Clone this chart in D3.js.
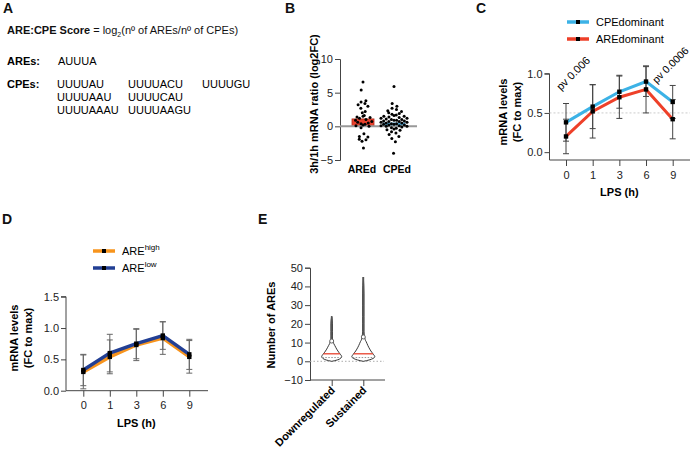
<!DOCTYPE html>
<html><head><meta charset="utf-8">
<script src="https://cdn.jsdelivr.net/npm/d3@7/dist/d3.min.js"></script>
<style>
body{margin:0;background:#fff;}
svg{font-family:"Liberation Sans",Arial,Helvetica,sans-serif;}
.tick text{font-size:11px;fill:#222;}
</style></head>
<body>
<svg id="c" width="695" height="451"></svg>
<script>
// ---------- DATA ----------
// Panel B
const bCats = ["AREd", "CPEd"];
const bMeans = [1.1, 0.5];
const bAREd = [6.6, 5.4, 3.8, 3.6, 3.4, 3.2, 3.0, 2.7, 2.2, 2.0, 1.6, 1.5, 1.4, 1.3, 1.2, 1.0, 0.9, 0.7, 0.6, 0.5, 0.4, 0.3, 0.2, 0.1, 0.0, -0.2, -1.1, -1.5, -1.6, -1.9, -2.0, -2.2, -3.2];
const bCPEd = [5.9, 3.4, 3.0, 2.7, 2.5, 2.3, 2.2, 2.0, 1.9, 1.8, 1.7, 1.6, 1.5, 1.5, 1.4, 1.3, 1.2, 1.2, 1.1, 1.0, 1.0, 0.9, 0.9, 0.8, 0.8, 0.7, 0.7, 0.6, 0.6, 0.5, 0.5, 0.4, 0.4, 0.3, 0.3, 0.2, 0.2, 0.1, 0.1, 0.0, 0.0, -0.1, -0.2, -0.3, -0.4, -0.5, -0.6, -0.8, -1.0, -1.2, -1.5, -1.8, -2.3, -4.0];
const bTicks = [-5, 0, 5, 10];
// Panel C
const timeCats = ["0", "1", "3", "6", "9"];
const cCPE = [0.38, 0.58, 0.77, 0.90, 0.64];
const cCPEerr = [0.24, 0.28, 0.21, 0.19, 0.21];
const cARE = [0.20, 0.52, 0.70, 0.80, 0.42];
const cAREerr = [0.22, 0.34, 0.27, 0.30, 0.25];
const cTicks = [0, 0.5, 1.0];
// Panel D
const dHigh = [0.30, 0.54, 0.73, 0.84, 0.54];
const dHighErr = [0.27, 0.27, 0.25, 0.26, 0.26];
const dLow = [0.33, 0.60, 0.75, 0.88, 0.58];
const dLowErr = [0.25, 0.30, 0.24, 0.22, 0.24];
const dTicks = [0, 0.5, 1.0, 1.5];
// Panel E (violins: ARE count levels and relative density)
const eCats = ["Downregulated", "Sustained"];
const eLevels = [0, 0.7, 1.5, 2.5, 3.5, 4.5, 5.5, 6.5, 7.5, 8.5, 9.5, 10.5, 11, 11.8, 13, 14, 16, 20, 24, 30, 36, 45];
const eDensDown = [0.02, 0.55, 0.88, 1.0, 0.9, 0.75, 0.62, 0.5, 0.4, 0.3, 0.2, 0.15, 0.12, 0.08, 0.08, 0.08, 0.08, 0.08, 0, 0, 0, 0];
const eDensSust = [0.02, 0.5, 0.85, 1.0, 0.9, 0.78, 0.66, 0.56, 0.47, 0.39, 0.32, 0.25, 0.2, 0.15, 0.12, 0.08, 0.06, 0.06, 0.06, 0.06, 0.06, 0];
const eMedian = [4, 4];
const eQ1 = [2, 2];
const eCircle = [10.8, 13.0];
const eTicks = [-10, 0, 10, 20, 30, 40, 50];

// ---------- DRAW ----------
const svg = d3.select("#c");
const axisCol = "#444";
const FONT = 11;

function panelLabel(t, x, y) {
  svg.append("text").attr("x", x).attr("y", y).text(t)
    .attr("font-size", 14).attr("font-weight", "bold").attr("fill", "#111");
}
function styleAxis(g) {
  g.selectAll("path,line").attr("stroke", axisCol).attr("stroke-width", 1);
  g.selectAll("text").attr("font-size", FONT).attr("fill", "#222").attr("font-family", null);
}

// ===== Panel A =====
panelLabel("A", 3, 13);
const tA = svg.append("text").attr("x", 7).attr("y", 34).attr("font-size", 11).attr("fill", "#111");
tA.append("tspan").attr("font-weight", "bold").text("ARE:CPE Score");
tA.append("tspan").text(" = log");
tA.append("tspan").attr("font-size", 7).attr("dy", 3).text("2");
tA.append("tspan").attr("dy", -3).text("(nº of AREs/nº of CPEs)");
svg.append("text").attr("x", 7).attr("y", 65).attr("font-size", 11).attr("font-weight", "bold").text("AREs:");
svg.append("text").attr("x", 58).attr("y", 65).attr("font-size", 11).text("AUUUA");
svg.append("text").attr("x", 7).attr("y", 88).attr("font-size", 11).attr("font-weight", "bold").text("CPEs:");
const cpeCols = [["UUUUAU", "UUUUAAU", "UUUUAAAU"], ["UUUUACU", "UUUUCAU", "UUUUAAGU"], ["UUUUGU"]];
const cpeX = [57, 128, 202];
cpeCols.forEach((col, ci) => col.forEach((s, ri) => {
  svg.append("text").attr("x", cpeX[ci]).attr("y", 88 + ri * 13).attr("font-size", 11).text(s);
}));

// ===== Panel B =====
panelLabel("B", 285, 13);
const yB = d3.scaleLinear().domain([-5, 10]).range([160, 59]);
const xB = d3.scalePoint().domain(bCats).range([363, 394]);
const gBy = svg.append("g").attr("transform", "translate(340,0)")
  .call(d3.axisLeft(yB).tickValues(bTicks).tickSize(5).tickPadding(2));
styleAxis(gBy);
const bCols = ["#e8412c", "#58b6e2"];
svg.append("g").selectAll("rect").data(bCats).join("rect")
  .attr("x", d => xB(d) - 11).attr("width", 22)
  .attr("y", (d, i) => yB(bMeans[i])).attr("height", (d, i) => yB(0) - yB(bMeans[i]))
  .attr("fill", (d, i) => bCols[i]).attr("stroke", (d, i) => i === 0 ? "#b02a1a" : "#3a8fc0").attr("stroke-width", 0.8);
svg.append("line").attr("x1", 340).attr("x2", 417).attr("y1", yB(0)).attr("y2", yB(0))
  .attr("stroke", "#999").attr("stroke-width", 2);
function jitter(vals, maxHalf) {
  const seq = [0, -0.8, 0.8, -0.4, 0.4, -1, 1, -0.6, 0.6, -0.2, 0.2];
  return vals.map((v, i) => {
    const n = vals.filter(w => Math.abs(w - v) <= 0.35).length;
    const spread = Math.min(maxHalf, 1 + n * 1.3);
    return { v, dx: spread * seq[i % seq.length] };
  });
}
[[bAREd, 10], [bCPEd, 13]].forEach(([vals, mh], gi) => {
  svg.append("g").selectAll("circle").data(jitter(vals, mh)).join("circle")
    .attr("cx", d => xB(bCats[gi]) + d.dx).attr("cy", d => yB(d.v)).attr("r", 1.5).attr("fill", "#000");
});
svg.selectAll(null).data(bCats).join("text")
  .attr("x", (d, i) => xB(d) + (i === 0 ? -1 : 3)).attr("y", 173).attr("text-anchor", "middle")
  .attr("font-size", 10.5).attr("font-weight", "bold").text(d => d);
svg.append("text").attr("transform", "translate(318,104) rotate(-90)").attr("text-anchor", "middle")
  .attr("font-size", 11).attr("font-weight", "bold").text("3h/1h mRNA ratio (log2FC)");

// ===== line panel helper =====
function linePanel(o) {
  const x = d3.scalePoint().domain(timeCats).range(o.xr);
  const y = d3.scaleLinear().domain(o.yd).range(o.yr);
  const gy = svg.append("g").attr("transform", `translate(${o.axX},0)`)
    .call(d3.axisLeft(y).tickValues(o.ticks).tickFormat(d3.format(".1f")).tickSize(5).tickPadding(2));
  gy.select(".domain").attr("d", `M-5,${y(o.ticks[o.ticks.length - 1])}H0V${o.axY}`);
  styleAxis(gy);
  const gx = svg.append("g").attr("transform", `translate(0,${o.axY})`)
    .call(d3.axisBottom(x).tickSize(6).tickPadding(5));
  gx.select(".domain").attr("d", `M${o.axX},0H${o.axEnd}`);
  styleAxis(gx);
  if (o.dash != null) {
    svg.append("line").attr("x1", o.axX).attr("x2", o.axEnd).attr("y1", y(o.dash)).attr("y2", y(o.dash))
      .attr("stroke", "#ccc").attr("stroke-width", 1).attr("stroke-dasharray", "2,2");
  }
  const line = d3.line().x((d, i) => x(timeCats[i])).y(d => y(d));
  o.series.forEach(s => {
    svg.append("path").datum(s.v).attr("d", line).attr("fill", "none")
      .attr("stroke", s.col).attr("stroke-width", o.lw);
  });
  o.series.forEach(s => {
    const g = svg.append("g").attr("stroke", o.errCol).attr("stroke-width", 1);
    s.v.forEach((v, i) => {
      const cx = x(timeCats[i]), lo = y(v - s.e[i]), hi = y(v + s.e[i]);
      g.append("line").attr("x1", cx).attr("x2", cx).attr("y1", lo).attr("y2", hi);
      g.append("line").attr("x1", cx - 3).attr("x2", cx + 3).attr("y1", lo).attr("y2", lo);
      g.append("line").attr("x1", cx - 3).attr("x2", cx + 3).attr("y1", hi).attr("y2", hi);
    });
  });
  o.series.forEach(s => {
    svg.append("g").selectAll("rect").data(s.v).join("rect")
      .attr("x", (d, i) => x(timeCats[i]) - 2.2).attr("y", d => y(d) - 2.2)
      .attr("width", 4.4).attr("height", 4.4).attr("fill", "#000");
  });
  svg.append("text").attr("x", (o.xr[0] + o.xr[1]) / 2).attr("y", o.axY + 36).attr("text-anchor", "middle")
    .attr("font-size", 11).attr("font-weight", "bold").text("LPS (h)");
  const lab = svg.append("text").attr("transform", `translate(${o.labX},${o.labY}) rotate(-90)`)
    .attr("text-anchor", "middle").attr("font-size", 11).attr("font-weight", "bold");
  lab.append("tspan").attr("x", 0).attr("dy", 0).text("mRNA levels");
  lab.append("tspan").attr("x", 0).attr("dy", 13.5).text("(FC to max)");
  return { x, y };
}

// ===== Panel C =====
panelLabel("C", 476, 13);
const C = linePanel({
  xr: [566, 672.7], yd: [-0.1, 1.0], yr: [160, 73.7], axX: 549.5, axY: 160, axEnd: 690,
  ticks: cTicks, dash: 0.5, lw: 3, errCol: "#444",
  series: [{ v: cCPE, e: cCPEerr, col: "#3cb2e6" }, { v: cARE, e: cAREerr, col: "#ee4029" }],
  labX: 507, labY: 112
});
[["CPEdominant", "#3cb2e6", 22], ["AREdominant", "#ee4029", 39]].forEach(([t, col, yy]) => {
  svg.append("line").attr("x1", 567).attr("x2", 589).attr("y1", yy).attr("y2", yy).attr("stroke", col).attr("stroke-width", 3.5);
  svg.append("rect").attr("x", 576).attr("y", yy - 2).attr("width", 4).attr("height", 4).attr("fill", "#000");
  svg.append("text").attr("x", 596).attr("y", yy + 4).attr("font-size", 11).text(t);
});
svg.append("text").attr("transform", `translate(${C.x("0") - 5},${C.y(0.78)}) rotate(-45)`)
  .attr("font-size", 11).text("pv 0.006");
svg.append("text").attr("transform", `translate(${C.x("9") - 16},${C.y(0.87)}) rotate(-45)`)
  .attr("font-size", 10.5).text("pv 0.0006");

// ===== Panel D =====
panelLabel("D", 2, 224);
linePanel({
  xr: [83.3, 189.3], yd: [0, 1.5], yr: [390.7, 296.7], axX: 66, axY: 390.7, axEnd: 208,
  ticks: dTicks, dash: null, lw: 3.5, errCol: "#666",
  series: [{ v: dHigh, e: dHighErr, col: "#f7941d" }, { v: dLow, e: dLowErr, col: "#223f94" }],
  labX: 18, labY: 338
});
[["high", "#f7941d", 251], ["low", "#223f94", 268]].forEach(([t, col, yy]) => {
  svg.append("line").attr("x1", 93).attr("x2", 115).attr("y1", yy).attr("y2", yy).attr("stroke", col).attr("stroke-width", 3.5);
  svg.append("rect").attr("x", 102).attr("y", yy - 2).attr("width", 4).attr("height", 4).attr("fill", "#000");
  const tt = svg.append("text").attr("x", 122).attr("y", yy + 4).attr("font-size", 11);
  tt.append("tspan").text("ARE");
  tt.append("tspan").attr("font-size", 8).attr("dy", -5).text(t);
});

// ===== Panel E =====
panelLabel("E", 258, 224);
const yE = d3.scaleLinear().domain([-10, 50]).range([380, 267.7]);
const xE = d3.scalePoint().domain(eCats).range([331.7, 363.3]);
const gEy = svg.append("g").attr("transform", "translate(310,0)")
  .call(d3.axisLeft(yE).tickValues(eTicks).tickSize(5).tickPadding(2));
styleAxis(gEy);
const gEx = svg.append("g").attr("transform", "translate(0,380)")
  .call(d3.axisBottom(xE).tickSize(6).tickFormat(""));
gEx.select(".domain").attr("d", "M310,0H385");
styleAxis(gEx);
svg.append("line").attr("x1", 310).attr("x2", 384).attr("y1", yE(0)).attr("y2", yE(0))
  .attr("stroke", "#aaa").attr("stroke-width", 1).attr("stroke-dasharray", "1.5,2");
const eDens = [eDensDown, eDensSust];
const eHalf = [10, 11.5];
eCats.forEach((c, ci) => {
  const cx = xE(c);
  const w = d3.scaleLinear().domain([0, 1]).range([0, eHalf[ci]]);
  const pts = eLevels.map((l, i) => ({ l, d: eDens[ci][i] }));
  const lastIdx = pts.findIndex((p, i) => i > 0 && p.d === 0);
  const use = pts.slice(0, lastIdx + 1);
  const area = d3.area().curve(d3.curveMonotoneY)
    .y(p => yE(p.l)).x0(p => cx - w(p.d)).x1(p => cx + w(p.d));
  svg.append("path").datum(use).attr("d", area).attr("fill", "#fff").attr("stroke", "#222").attr("stroke-width", 0.9);
  // thin upper tail
  svg.append("line").attr("x1", cx).attr("x2", cx).attr("y1", yE(eCircle[ci]) - 2).attr("y2", yE(use[use.length - 1].l))
    .attr("stroke", "#555").attr("stroke-width", 1.8);
  svg.append("circle").attr("cx", cx).attr("cy", yE(eCircle[ci])).attr("r", 2)
    .attr("fill", "#fff").attr("stroke", "#666").attr("stroke-width", 1);
  // median & quartile
  const interp = l => {
    const i = d3.bisectLeft(eLevels, l);
    const t = (l - eLevels[i - 1]) / (eLevels[i] - eLevels[i - 1]);
    return w(eDens[ci][i - 1] + t * (eDens[ci][i] - eDens[ci][i - 1]));
  };
  const hm = interp(eMedian[ci]);
  svg.append("line").attr("x1", cx - hm).attr("x2", cx + hm).attr("y1", yE(eMedian[ci])).attr("y2", yE(eMedian[ci]))
    .attr("stroke", "#e8412c").attr("stroke-width", 1.3);
  const hq = interp(eQ1[ci]);
  svg.append("line").attr("x1", cx - hq).attr("x2", cx + hq).attr("y1", yE(eQ1[ci])).attr("y2", yE(eQ1[ci]))
    .attr("stroke", "#888").attr("stroke-width", 0.9).attr("stroke-dasharray", "1.5,1.5");
});
svg.selectAll(null).data(eCats).join("text")
  .attr("transform", d => `translate(${xE(d) + 4},${391}) rotate(-45)`)
  .attr("text-anchor", "end").attr("font-size", 11).attr("font-weight", "bold").text(d => d);
svg.append("text").attr("transform", "translate(275,325) rotate(-90)").attr("text-anchor", "middle")
  .attr("font-size", 11).attr("font-weight", "bold").text("Number of AREs");
</script>
</body></html>
